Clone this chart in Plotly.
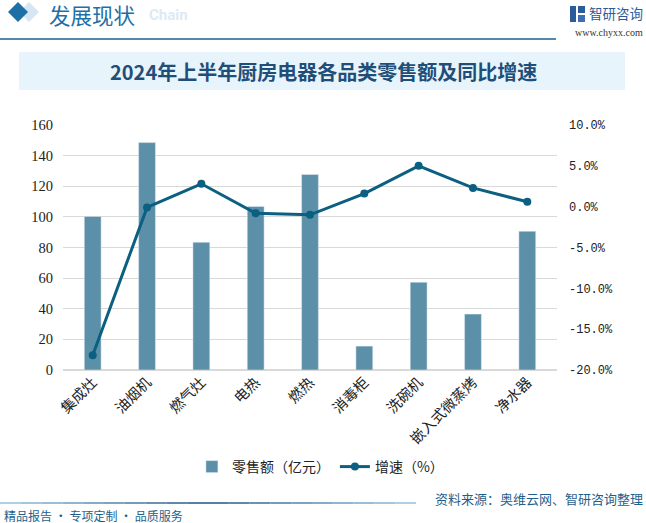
import plotly.graph_objects as go

categories = ["集成灶", "油烟机", "燃气灶", "电热", "燃热", "消毒柜", "洗碗机", "嵌入式微蒸烤", "净水器"]
sales = [100.3, 148.5, 83.4, 106.8, 127.7, 15.6, 57.3, 36.5, 90.6]
growth = [-18.2, -0.1, 2.8, -0.8, -1.0, 1.6, 5.0, 2.3, 0.6]

left_ticks = [0, 20, 40, 60, 80, 100, 120, 140, 160]
right_ticks = [-20, -15, -10, -5, 0, 5, 10]
right_labels = ["-20.0%", "-15.0%", "-10.0%", "-5.0%", "0.0%", "5.0%", "10.0%"]

W, H = 646, 523
BAR = "#5C90A8"
LINE = "#0B5F80"
DARK = "#1B5F8E"

def py(p):
    return 1 - p / H

def px(p):
    return p / W

fig = go.Figure()
fig.add_trace(go.Bar(x=categories, y=sales, name="零售额（亿元）", marker_color=BAR,
                     yaxis="y"))
fig.add_trace(go.Scatter(x=categories, y=growth, name="增速（%）", mode="lines+markers",
                         line=dict(color=LINE, width=3), marker=dict(size=8, color=LINE),
                         yaxis="y2"))

fig.update_layout(
    width=W, height=H,
    margin=dict(l=0, r=0, t=0, b=0),
    paper_bgcolor="white", plot_bgcolor="white",
    bargap=0.69,
    showlegend=True,
    legend=dict(orientation="h", x=0.496, xanchor="center", y=py(467), yanchor="middle",
                font=dict(family="Noto Sans CJK SC", size=14, color="#222"),
                itemwidth=30, traceorder="normal"),
    xaxis=dict(domain=[px(63), px(557)], showgrid=False, showline=False, ticks="",
               tickangle=-45, tickfont=dict(family="Noto Sans CJK SC", size=14.5, color="#222"),
               automargin=False),
    yaxis=dict(domain=[py(370), py(125)], range=[0, 160], tickvals=left_ticks,
               showgrid=True, gridcolor="#D9D9D9", gridwidth=1, zeroline=True,
               zerolinecolor="#D9D9D9", showline=False, ticks="",
               tickfont=dict(family="Liberation Serif", size=14.5, color="#222"),
               ticklabelstandoff=9, automargin=False),
    yaxis2=dict(overlaying="y", side="right", range=[-20, 10], tickvals=right_ticks,
                ticktext=right_labels, showgrid=False, zeroline=False, showline=False,
                ticks="", tickfont=dict(family="Liberation Mono, DejaVu Sans Mono", size=12, color="#222"),
                ticklabelstandoff=11, automargin=False, anchor="x"),
)

shapes = []
# header underline
shapes.append(dict(type="line", xref="paper", yref="paper", x0=0, x1=px(556), y0=py(39), y1=py(39),
                   line=dict(color=DARK, width=1.5)))
# light diamond shadow
shapes.append(dict(type="path", xref="paper", yref="paper",
                   path=f"M {px(19)},{py(12)} L {px(29)},{py(2)} L {px(39)},{py(12)} L {px(29)},{py(22)} Z",
                   fillcolor="#D6E7F3", line=dict(width=0)))
# diamond icon
shapes.append(dict(type="path", xref="paper", yref="paper",
                   path=f"M {px(8)},{py(12)} L {px(18)},{py(2)} L {px(28)},{py(12)} L {px(18)},{py(22)} Z",
                   fillcolor="#1E6FA6", line=dict(width=0)))
# title band
shapes.append(dict(type="rect", xref="paper", yref="paper", x0=px(19), x1=px(625), y0=py(90), y1=py(52),
                   fillcolor="#E8F4FB", line=dict(width=0), layer="below"))
# footer gradient line
n = 20
for i in range(n):
    t = i / (n - 1)
    c0 = (30, 80, 130)
    c1 = (150, 190, 220)
    if t < 0.5:
        tt = t / 0.5
        r = [int(c1[k] + (c0[k] - c1[k]) * tt) for k in range(3)]
    else:
        tt = (t - 0.5) / 0.5
        r = [int(c0[k] + (c1[k] - c0[k]) * tt) for k in range(3)]
    shapes.append(dict(type="line", xref="paper", yref="paper",
                       x0=px(416 * i / n), x1=px(416 * (i + 1) / n), y0=py(503), y1=py(503),
                       line=dict(color=f"rgb({r[0]},{r[1]},{r[2]})", width=1.5)))
# logo icon
shapes.append(dict(type="rect", xref="paper", yref="paper", x0=px(570), x1=px(576), y0=py(22), y1=py(6),
                   fillcolor="#2A5B9A", line=dict(width=0)))
shapes.append(dict(type="rect", xref="paper", yref="paper", x0=px(578), x1=px(585), y0=py(13), y1=py(6),
                   fillcolor="#2A5B9A", line=dict(width=0)))
shapes.append(dict(type="rect", xref="paper", yref="paper", x0=px(578), x1=px(585), y0=py(22), y1=py(15),
                   fillcolor="#3C6FB3", line=dict(width=0)))
fig.update_layout(shapes=shapes)

ann = [
    dict(text="<b>Chain</b>", x=px(147), y=py(15), xanchor="left", yanchor="middle",
         font=dict(family="Roboto", size=15, color="#DCEAF4"), showarrow=False),
    dict(text="发展现状", x=px(47), y=py(15), xanchor="left", yanchor="middle",
         font=dict(family="Noto Sans CJK SC", size=21.5, color="#1E6FA6"), showarrow=False),
    dict(text="智研咨询", x=px(645), y=py(13), xanchor="right", yanchor="middle",
         font=dict(family="Noto Sans CJK SC", size=13.5, color="#2A5B9A"), showarrow=False),
    dict(text="www.chyxx.com", x=px(645), y=py(32), xanchor="right", yanchor="middle",
         font=dict(family="Liberation Serif", size=10, color="#333"), showarrow=False),
    dict(text="<b>2024年上半年厨房电器各品类零售额及同比增速</b>", x=px(323), y=py(71), xanchor="center",
         yanchor="middle", font=dict(family="Noto Sans CJK SC", size=20, color="#1F4E79"),
         showarrow=False),
    dict(text="资料来源：奥维云网、智研咨询整理", x=px(645), y=py(498), xanchor="right", yanchor="middle",
         font=dict(family="Noto Sans CJK SC", size=13, color="#1F5F8B"), showarrow=False),
    dict(text="精品报告 · 专项定制 · 品质服务", x=px(2), y=py(515), xanchor="left", yanchor="middle",
         font=dict(family="Noto Sans CJK SC", size=12, color="#1F5F8B"), showarrow=False),
]
for a in ann:
    a.setdefault("xref", "paper")
    a.setdefault("yref", "paper")
fig.update_layout(annotations=ann)

fig.write_html("out.html", config={"displayModeBar": False},
               post_script="document.body.style.margin='0';document.body.style.overflow='hidden';")
